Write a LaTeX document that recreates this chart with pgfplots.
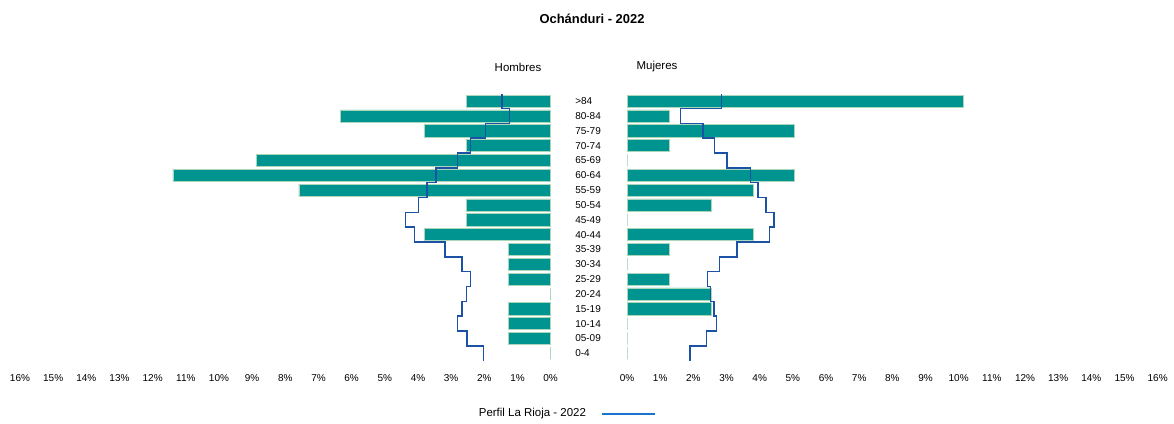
\documentclass[border=0pt]{standalone}
\usepackage{fontspec}
\setmainfont{Liberation Sans}
\usepackage{pgfplots}
\pgfplotsset{compat=1.18}
\definecolor{barteal}{RGB}{0,148,144}
\definecolor{baredge}{RGB}{170,215,185}
\definecolor{profblue}{RGB}{28,82,165}
\definecolor{legblue}{RGB}{24,116,205}
\begin{document}
\begin{tikzpicture}
\path[use as bounding box] (0,0) rectangle (880.5pt,-318pt);
\pgfplotsset{
  pyr/.style={
    scale only axis,
    width=398pt, height=200.25pt,
    xmin=0, xmax=16, ymin=-0.5, ymax=17.5,
    xtick={0,...,16},
    xticklabel={\pgfmathprintnumber{\tick}\%},
    /pgf/number format/assume math mode=true,
    xticklabel style={anchor=base, yshift=-15.75pt, font=\fontsize{7.5}{9}\selectfont},
    axis line style={draw=none},
    major tick length=0pt,
    ytick={0,...,17},
    clip=false,
    xbar, bar width=0.82, bar shift=0pt,
  }
}
% Left axis (Hombres)
\begin{axis}[pyr, at={(15pt,-270.5pt)}, anchor=south west, x dir=reverse,
  yticklabels={}]
\addplot[fill=barteal, draw=baredge, line width=0.5pt] coordinates {
(0,0) (1.27,1) (1.27,2) (1.27,3) (0,4) (1.27,5) (1.27,6) (1.27,7) (3.80,8)
(2.53,9) (2.53,10) (7.59,11) (11.39,12) (8.86,13) (2.53,14) (3.80,15) (6.33,16) (2.53,17)};
\addplot[xbar=false, sharp plot, profblue, line width=1.1pt, mark=none] coordinates {
(2.02,-0.5) (2.02,0.5) (2.52,0.5) (2.52,1.5) (2.81,1.5) (2.81,2.5)
(2.67,2.5) (2.67,3.5) (2.54,3.5) (2.54,4.5) (2.41,4.5) (2.41,5.5)
(2.67,5.5) (2.67,6.5) (3.19,6.5) (3.19,7.5) (4.10,7.5) (4.10,8.5)
(4.38,8.5) (4.38,9.5) (3.99,9.5) (3.99,10.5) (3.73,10.5) (3.73,11.5)
(3.46,11.5) (3.46,12.5) (2.81,12.5) (2.81,13.5) (2.42,13.5) (2.42,14.5)
(1.96,14.5) (1.96,15.5) (1.24,15.5) (1.24,16.5) (1.47,16.5) (1.47,17.5)};
\end{axis}
% Right axis (Mujeres)
\begin{axis}[pyr, at={(470.25pt,-270.5pt)}, anchor=south west,
  yticklabels={0-4,05-09,10-14,15-19,20-24,25-29,30-34,35-39,40-44,45-49,50-54,55-59,60-64,65-69,70-74,75-79,80-84,{>84}},
  yticklabel style={anchor=west, xshift=-39pt, inner sep=0pt, font=\fontsize{7.5}{9}\selectfont},
  legend plot pos=right,
  legend style={at={(axis description cs:-0.115,-0.199)}, anchor=center, draw=none, fill=none,
    font=\fontsize{8.6}{10}\selectfont, /tikz/every odd column/.append style={column sep=9pt}}]
\addplot[fill=barteal, draw=baredge, line width=0.5pt, forget plot] coordinates {
(0,0) (0,1) (0,2) (2.53,3) (2.53,4) (1.27,5) (0,6) (1.27,7) (3.80,8)
(0,9) (2.53,10) (3.80,11) (5.06,12) (0,13) (1.27,14) (5.06,15) (1.27,16) (10.13,17)};
\addplot[xbar=false, sharp plot, profblue, line width=1.1pt, mark=none,
  legend image code/.code={\draw[legblue, line width=1.3pt] (0pt,0pt) -- (40pt,0pt);}] coordinates {
(1.90,-0.5) (1.90,0.5) (2.40,0.5) (2.40,1.5) (2.70,1.5) (2.70,2.5)
(2.62,2.5) (2.62,3.5) (2.51,3.5) (2.51,4.5) (2.43,4.5) (2.43,5.5)
(2.79,5.5) (2.79,6.5) (3.32,6.5) (3.32,7.5) (4.30,7.5) (4.30,8.5)
(4.43,8.5) (4.43,9.5) (4.19,9.5) (4.19,10.5) (3.95,10.5) (3.95,11.5)
(3.72,11.5) (3.72,12.5) (3.01,12.5) (3.01,13.5) (2.64,13.5) (2.64,14.5)
(2.29,14.5) (2.29,15.5) (1.62,15.5) (1.62,16.5) (2.85,16.5) (2.85,17.5)};
\addlegendentry{Perfil La Rioja - 2022}
\end{axis}
\node[font=\fontsize{9.7}{11}\selectfont\bfseries] at (444pt,-14pt) {Ochánduri - 2022};
\node[font=\fontsize{8.6}{10}\selectfont] at (388.5pt,-50.25pt) {Hombres};
\node[font=\fontsize{8.6}{10}\selectfont] at (492.75pt,-50.25pt) {Mujeres};
\end{tikzpicture}
\end{document}
